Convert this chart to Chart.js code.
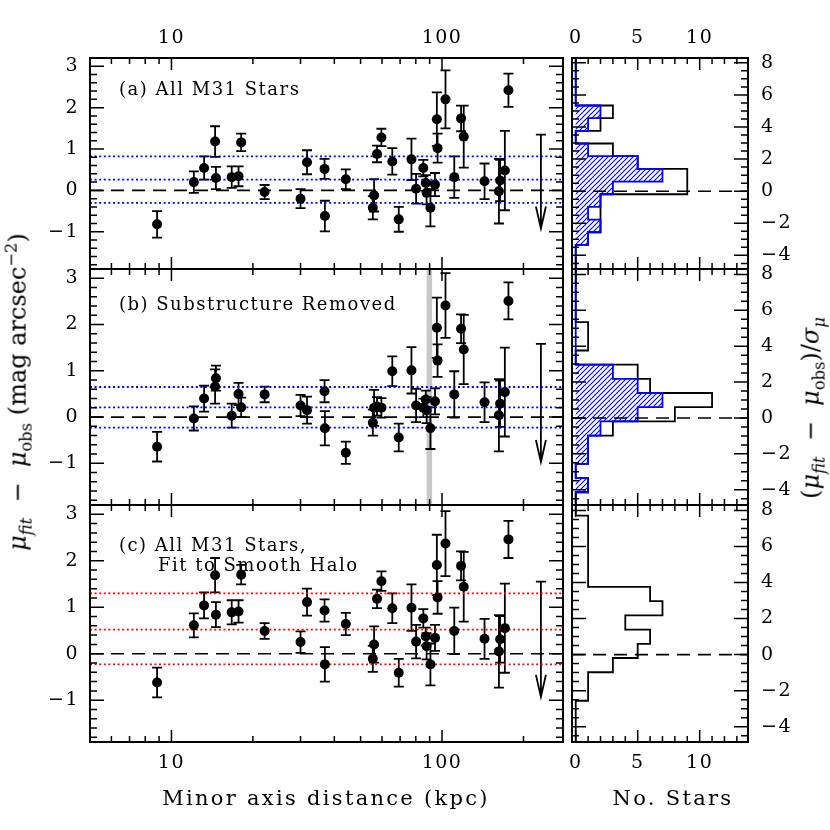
<!DOCTYPE html>
<html>
<head>
<meta charset="utf-8">
<title>M31 halo surface brightness residuals</title>
<script src="https://cdn.jsdelivr.net/npm/chart.js@4.4.0/dist/chart.umd.min.js"></script>
<style>
body { margin: 0; background: #fff; }
#fig { position: relative; width: 830px; height: 830px; overflow: hidden; font-family: "DejaVu Serif", serif; color: #000; }
#fig canvas { position: absolute; left: 0; top: 0; }
.txt { position: absolute; white-space: nowrap; font-size: 18px; line-height: 20px; letter-spacing: 1.5px; }
.title { position: absolute; white-space: nowrap; font-size: 21px; line-height: 26px; letter-spacing: 2.3px; }
.ytitle { position: absolute; white-space: nowrap; font-size: 24px; line-height: 28px; }
.rot { transform: translate(-50%, -50%) rotate(-90deg); }
.ctr { transform: translate(-50%, -50%); }
sub, sup { font-size: 68%; }
</style>
</head>
<body>
<div id="fig">
  <canvas id="mainA" width="830" height="830"></canvas>
  <canvas id="mainB" width="830" height="830"></canvas>
  <canvas id="mainC" width="830" height="830"></canvas>
  <canvas id="histA" width="830" height="830"></canvas>
  <canvas id="histB" width="830" height="830"></canvas>
  <canvas id="histC" width="830" height="830"></canvas>

  <div class="txt" style="left:119px;top:79px">(a) All M31 Stars</div>
  <div class="txt" style="left:119px;top:294px">(b) Substructure Removed</div>
  <div class="txt" style="left:119px;top:535px">(c) All M31 Stars,</div>
  <div class="txt" style="left:158px;top:555px">Fit to Smooth Halo</div>

  <div class="ytitle rot" style="left:19px;top:392px"><i>μ</i><sub><i>fit</i></sub> &nbsp;− &nbsp;<i>μ</i><sub>obs</sub> (mag arcsec<sup>−2</sup>)</div>
  <div class="ytitle rot" style="left:815px;top:408px">(<i>μ</i><sub><i>fit</i></sub> &nbsp;− &nbsp;<i>μ</i><sub>obs</sub>)/<i>σ</i><sub><i>μ</i></sub></div>
  <div class="title ctr" style="left:326px;top:798px">Minor axis distance (kpc)</div>
  <div class="title ctr" style="left:673px;top:798px">No. Stars</div>
</div>
<script>
// fields along the minor axis
var minorAxisKpc = [8.85, 12.1, 13.2, 14.5, 14.6, 16.7, 17.7, 18.1, 22.1, 30.0,
	31.7, 36.8, 36.9, 44.1, 55.5, 56.1, 57.5, 59.7, 65.5, 69.2,
	77.1, 80.2, 85.3, 87.1, 87.7, 90.6, 94.2, 95.7, 96.3, 103,
	111, 117.6, 120.3, 143.6, 162.3, 164, 170.7, 176];
var residErr = [0.32, 0.26, 0.28, 0.37, 0.27, 0.26, 0.24, 0.21, 0.17, 0.23,
	0.29, 0.24, 0.37, 0.24, 0.28, 0.39, 0.20, 0.21, 0.32, 0.30,
	0.50, 0.36, 0.20, 0.19, 0.28, 0.45, 0.28, 0.65, 0.35, 0.70,
	0.50, 0.31, 0.75, 0.43, 0.78, 0.50, 0.96, 0.40];
var residAll = [-0.82, 0.20, 0.54, 1.18, 0.30, 0.32, 0.34, 1.16, -0.04, -0.20,
	0.68, 0.52, -0.62, 0.27, -0.42, -0.12, 0.88, 1.28, 0.70, -0.70,
	0.75, 0.04, 0.54, 0.18, -0.06, -0.42, 0.14, 1.72, 1.02, 2.20,
	0.32, 1.74, 1.30, 0.22, -0.02, 0.24, 0.48, 2.42];
var residNoSub = [-0.64, -0.03, 0.40, 0.66, 0.84, 0.03, 0.50, 0.21, 0.49, 0.25,
	0.15, 0.56, -0.24, -0.77, -0.12, 0.20, 0.23, 0.20, 0.99, -0.44,
	1.01, 0.25, 0.20, 0.38, 0.15, -0.24, 0.34, 1.93, 1.22, 2.41,
	0.49, 1.91, 1.46, 0.32, 0.04, 0.29, 0.54, 2.51];
var residSmooth = [-0.62, 0.61, 1.04, 1.69, 0.84, 0.89, 0.91, 1.70, 0.49, 0.25,
	1.11, 0.93, -0.23, 0.64, -0.11, 0.20, 1.18, 1.56, 0.98, -0.41,
	0.99, 0.26, 0.76, 0.37, 0.16, -0.23, 0.34, 1.91, 1.21, 2.37,
	0.49, 1.89, 1.44, 0.32, 0.05, 0.31, 0.55, 2.46];

// upper limit field (arrow)
var limitKpc = 232;
var limitTop = [1.35, 1.58, 1.55];
var limitTip = [-0.92, -0.97, -0.93];

// dotted lines (mean and spread)
var spreadA = [0.82, 0.26, -0.30];
var spreadB = [0.65, 0.21, -0.23];
var spreadC = [1.30, 0.52, -0.23];

// removed field (grey band in panel b)
var removedKpc = [87.7, 91.9];

// histograms of (mu_fit - mu_obs)/sigma
var binEdges = [-4.14, -3.35, -2.56, -1.77, -0.98, -0.19, 0.60, 1.39, 2.18, 2.97, 3.76, 4.55, 5.34, 6.13, 6.92, 7.71];
var countsAllA = [0, 1, 2, 2, 2, 9, 9, 5, 3, 0, 2, 3, 0, 0, 0];
var countsSubA = [0, 1, 2, 1, 2, 3, 7, 5, 1, 0, 1, 2, 0, 0, 0];
var countsAllB = [1, 0, 1, 1, 3, 8, 11, 6, 5, 0, 1, 1, 0, 0, 0];
var countsSubB = [1, 0, 1, 1, 2, 5, 7, 5, 3, 0, 0, 0, 0, 0, 0];
var countsAllC = [0, 0, 1, 1, 3, 5, 6, 4, 7, 6, 1, 1, 1, 1, 1];

// ticks
var kpcLabels = [10, 100];
var kpcMinor = [6, 7, 8, 9, 20, 30, 40, 50, 60, 70, 80, 90, 200];
var magLabels = [3, 2, 1, 0, -1];
var magMinor = [-1.8, -1.6, -1.4, -1.2, -0.8, -0.6, -0.4, -0.2, 0.2, 0.4, 0.6, 0.8,
	1.2, 1.4, 1.6, 1.8, 2.2, 2.4, 2.6, 2.8, 3.0];
var countLabels = [0, 5, 10];
var countMinor = [1, 2, 3, 4, 6, 7, 8, 9, 11, 12, 13];
var sigmaLabels = [8, 6, 4, 2, 0, -2, -4];
var sigmaMinor = [-4.5, -3.5, -3, -2.5, -1.5, -1, -0.5, 0.5, 1, 1.5, 2.5, 3, 3.5,
	4.5, 5, 5.5, 6.5, 7, 7.5];

// layout
var W = 830, H = 830;
var panelTop = [58, 269, 505];
var panelBottom = [269, 505, 742];
var mainLeft = 90, mainRight = 563, histLeft = 572, histRight = 748;
var kpcMin = 5, kpcMax = 280, magMin = -1.9, magMax = 3.2;
var cntMin = -0.3, cntMax = 13.9, sigMin = -4.85, sigMax = 8.3;
var BLUE = 'rgb(0,0,255)', RED = 'rgb(255,0,0)';
var labelFont = '19px "DejaVu Serif"';

function fmt(v) {
	return v < 0 ? '\u2212' + Math.abs(v) : String(v);
}

var frame = {
	id: 'frame',
	beforeDatasetsDraw: function(chart, args, o) {
		var ctx = chart.ctx, a = chart.chartArea, xs = chart.scales.x, ys = chart.scales.y;
		ctx.save();
		if (o.band) {
			var b0 = xs.getPixelForValue(o.band[0]), b1 = xs.getPixelForValue(o.band[1]);
			ctx.fillStyle = '#c8c8c8';
			ctx.fillRect(b0, a.top, b1 - b0, a.bottom - a.top);
		}
		if (o.resid) {
			ctx.strokeStyle = '#000';
			ctx.lineWidth = 1.8;
			ctx.beginPath();
			minorAxisKpc.forEach(function(d, i) {
				var px = xs.getPixelForValue(d);
				var t = ys.getPixelForValue(o.resid[i] + residErr[i]);
				var b = ys.getPixelForValue(o.resid[i] - residErr[i]);
				ctx.moveTo(px, t); ctx.lineTo(px, b);
				ctx.moveTo(px - 5, t); ctx.lineTo(px + 5, t);
				ctx.moveTo(px - 5, b); ctx.lineTo(px + 5, b);
			});
			// upper limit
			var lx = xs.getPixelForValue(limitKpc);
			var lt = ys.getPixelForValue(limitTop[o.panel]);
			var lb = ys.getPixelForValue(limitTip[o.panel]);
			ctx.moveTo(lx, lt); ctx.lineTo(lx, lb);
			ctx.moveTo(lx - 5, lt); ctx.lineTo(lx + 5, lt);
			ctx.moveTo(lx - 5, lb - 22); ctx.lineTo(lx, lb); ctx.lineTo(lx + 5, lb - 22);
			ctx.stroke();
		}
		ctx.restore();
	},
	afterDraw: function(chart, args, o) {
		var ctx = chart.ctx, a = chart.chartArea, xs = chart.scales.x, ys = chart.scales.y;
		ctx.save();
		ctx.strokeStyle = '#000';
		ctx.lineWidth = 1.5;
		ctx.beginPath();
		function xt(vals, len) {
			vals.forEach(function(v) {
				var p = xs.getPixelForValue(v);
				ctx.moveTo(p, a.top); ctx.lineTo(p, a.top + len);
				ctx.moveTo(p, a.bottom); ctx.lineTo(p, a.bottom - len);
			});
		}
		function yt(vals, len) {
			vals.forEach(function(v) {
				var p = ys.getPixelForValue(v);
				ctx.moveTo(a.left, p); ctx.lineTo(a.left + len, p);
				ctx.moveTo(a.right, p); ctx.lineTo(a.right - len, p);
			});
		}
		xt(o.xMajor, 12); xt(o.xMinor, 6);
		yt(o.yMajor, 14); yt(o.yMinor, 7);
		ctx.stroke();
		ctx.lineWidth = 2;
		ctx.strokeRect(a.left, a.top, a.right - a.left, a.bottom - a.top);

		ctx.fillStyle = '#000';
		ctx.font = labelFont;
		ctx.letterSpacing = '1.5px';
		if (o.top) {
			ctx.textAlign = 'center'; ctx.textBaseline = 'alphabetic';
			o.xMajor.forEach(function(v) { ctx.fillText(fmt(v), xs.getPixelForValue(v), a.top - 15); });
		}
		if (o.bottom) {
			ctx.textAlign = 'center'; ctx.textBaseline = 'top';
			o.xMajor.forEach(function(v) { ctx.fillText(fmt(v), xs.getPixelForValue(v), a.bottom + 12); });
		}
		if (o.left) {
			ctx.textAlign = 'right'; ctx.textBaseline = 'middle';
			o.yMajor.forEach(function(v) { ctx.fillText(fmt(v), a.left - 11, ys.getPixelForValue(v)); });
		}
		if (o.right) {
			ctx.textAlign = 'left'; ctx.textBaseline = 'middle';
			o.yMajor.forEach(function(v) { ctx.fillText(fmt(v), a.right + 13, ys.getPixelForValue(v)); });
		}
		ctx.restore();
	}
};

function hline(y, x0, x1, color, dash, width, order) {
	return {
		data: [{x: x0, y: y}, {x: x1, y: y}],
		showLine: true, pointRadius: 0, borderColor: color, borderDash: dash,
		borderWidth: width, fill: false, order: order
	};
}

function makeMain(id, p, resid, spread, spreadColor, band) {
	var datasets = [{
		data: minorAxisKpc.map(function(d, i) { return {x: d, y: resid[i]}; }),
		pointRadius: 5, pointBackgroundColor: '#000', pointBorderWidth: 0, order: 0
	}, hline(0, kpcMin, kpcMax, '#000', [13, 8], 1.6, 2)];
	spread.forEach(function(v) {
		datasets.push(hline(v, kpcMin, kpcMax, spreadColor, [2, 2.6], 1.8, 1));
	});
	return new Chart(document.getElementById(id), {
		type: 'scatter',
		data: {datasets: datasets},
		options: {
			responsive: false, animation: false, events: [],
			layout: {autoPadding: false, padding: {left: mainLeft, right: W - mainRight, top: panelTop[p], bottom: H - panelBottom[p]}},
			scales: {
				x: {type: 'logarithmic', min: kpcMin, max: kpcMax, display: false},
				y: {type: 'linear', min: magMin, max: magMax, display: false}
			},
			plugins: {
				legend: {display: false}, tooltip: {enabled: false},
				frame: {
					panel: p, resid: resid, band: band,
					xMajor: kpcLabels, xMinor: kpcMinor, yMajor: magLabels, yMinor: magMinor,
					top: p === 0, bottom: p === 2, left: true, right: false
				}
			}
		},
		plugins: [frame]
	});
}

function stepOutline(counts) {
	var pts = [{x: 0, y: sigMin}, {x: 0, y: binEdges[0]}];
	counts.forEach(function(c, i) {
		pts.push({x: c, y: binEdges[i]});
		pts.push({x: c, y: binEdges[i + 1]});
	});
	pts.push({x: 0, y: binEdges[binEdges.length - 1]});
	pts.push({x: 0, y: sigMax});
	return pts;
}

function hatch() {
	var c = document.createElement('canvas');
	c.width = 5; c.height = 5;
	var g = c.getContext('2d');
	g.strokeStyle = BLUE;
	g.lineWidth = 1.1;
	g.beginPath();
	g.moveTo(-1, 6); g.lineTo(6, -1);
	g.moveTo(-1, 1); g.lineTo(1, -1);
	g.moveTo(4, 6); g.lineTo(6, 4);
	g.stroke();
	return g.createPattern(c, 'repeat');
}

function makeHist(id, p, allCounts, subCounts) {
	var datasets = [{
		data: stepOutline(allCounts), showLine: true, pointRadius: 0,
		borderColor: '#000', borderWidth: 1.8, fill: false, order: 2
	}, hline(0, cntMin, cntMax, '#000', [13, 8], 1.6, 0)];
	if (subCounts) {
		datasets.push({
			data: stepOutline(subCounts), showLine: true, pointRadius: 0,
			borderColor: BLUE, borderWidth: 1.8, backgroundColor: hatch(),
			fill: {value: 0}, order: 1
		});
	}
	return new Chart(document.getElementById(id), {
		type: 'scatter',
		data: {datasets: datasets},
		options: {
			indexAxis: 'y',
			responsive: false, animation: false, events: [],
			layout: {autoPadding: false, padding: {left: histLeft, right: W - histRight, top: panelTop[p], bottom: H - panelBottom[p]}},
			scales: {
				x: {type: 'linear', min: cntMin, max: cntMax, display: false},
				y: {type: 'linear', min: sigMin, max: sigMax, display: false}
			},
			plugins: {
				legend: {display: false}, tooltip: {enabled: false},
				filler: {propagate: false},
				frame: {
					xMajor: countLabels, xMinor: countMinor, yMajor: sigmaLabels, yMinor: sigmaMinor,
					top: p === 0, bottom: p === 2, left: false, right: true
				}
			}
		},
		plugins: [frame]
	});
}

makeMain('mainA', 0, residAll, spreadA, BLUE, null);
makeMain('mainB', 1, residNoSub, spreadB, BLUE, removedKpc);
makeMain('mainC', 2, residSmooth, spreadC, RED, null);
makeHist('histA', 0, countsAllA, countsSubA);
makeHist('histB', 1, countsAllB, countsSubB);
makeHist('histC', 2, countsAllC, null);
</script>
</body>
</html>
